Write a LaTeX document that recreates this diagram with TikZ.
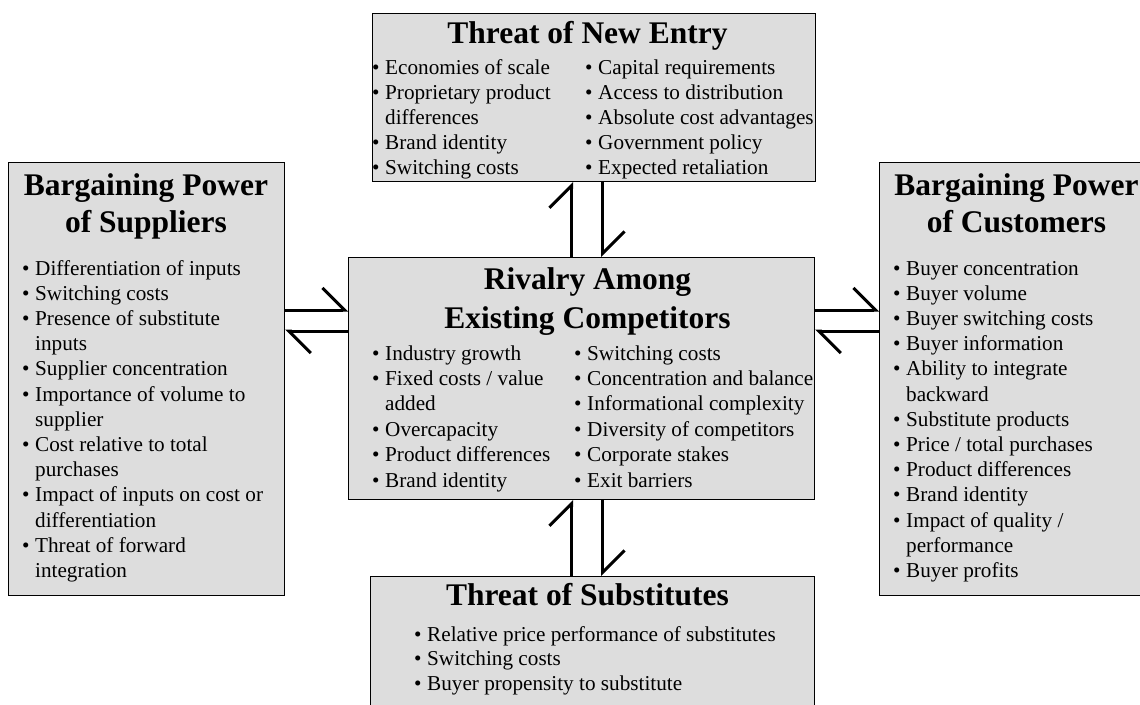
\documentclass[tikz,border=0pt]{standalone}
\usepackage{fontspec}
\setmainfont{Liberation Serif}
\usetikzlibrary{arrows.meta}
\definecolor{boxgray}{RGB}{221,221,221}
\newcommand{\pbul}{\makebox[13pt][l]{\textbullet}}
\newcommand{\pind}{\hspace*{13pt}}
\tikzset{
    boxnode/.style={draw=black, fill=boxgray, line width=1.2pt, anchor=north west, inner sep=0pt},
    boxtitle/.style={anchor=base, inner sep=0pt, font=\fontsize{31.5}{37}\selectfont\bfseries},
    bulletline/.style={anchor=base west, inner sep=0pt, font=\fontsize{21.2}{25}\selectfont},
    harp/.style={line width=3pt, -{Straight Barb[harpoon, length=22pt, width=44pt]}}
}

\begin{document}
\begin{tikzpicture}[x=1pt, y=-1pt]
        \useasboundingbox (0,0) rectangle (1140,704);
        \clip (0,0) rectangle (1140,704);
        \fill[white] (0,0) rectangle (1140,704);

        % boxes
        \node[boxnode, minimum width=443pt, minimum height=168pt] (entry) at (372,13) {};
        \node[boxnode, minimum width=276pt, minimum height=433pt] (sup) at (8,162) {};
        \node[boxnode, minimum width=280pt, minimum height=433pt] (cust) at (879,162) {};
        \node[boxnode, minimum width=466pt, minimum height=242pt] (rival) at (348,257) {};
        \node[boxnode, minimum width=444pt, minimum height=150pt] (subst) at (370,576) {};

        % titles
        \node[boxtitle] (entryT) at (587.5,43) {Threat of New Entry};
        \node[boxtitle] (supT1) at (146,195) {Bargaining Power};
        \node[boxtitle] (supT2) at (146,232) {of Suppliers};
        \node[boxtitle] (custT1) at (1016.5,195) {Bargaining Power};
        \node[boxtitle] (custT2) at (1016.5,232) {of Customers};
        \node[boxtitle] (rivalT1) at (587.5,289) {Rivalry Among};
        \node[boxtitle] (rivalT2) at (587.5,328) {Existing Competitors};
        \node[boxtitle] (substT) at (587.5,605) {Threat of Substitutes};

        % lists
        \foreach \t [count=\i from 0] in {\pbul Economies of scale, \pbul Proprietary product,
            \pind differences, \pbul Brand identity, \pbul Switching costs}{
            \node[bulletline] (entryA\i) at (372,74+25*\i) {\t};
        }
        \foreach \t [count=\i from 0] in {\pbul Capital requirements, \pbul Access to distribution,
            \pbul Absolute cost advantages, \pbul Government policy, \pbul Expected retaliation}{
            \node[bulletline] (entryB\i) at (585,74+25*\i) {\t};
        }
        \foreach \t [count=\i from 0] in {\pbul Differentiation of inputs, \pbul Switching costs,
            \pbul Presence of substitute, \pind inputs, \pbul Supplier concentration,
            \pbul Importance of volume to, \pind supplier, \pbul Cost relative to total,
            \pind purchases, \pbul Impact of inputs on cost or, \pind differentiation,
            \pbul Threat of forward, \pind integration}{
            \node[bulletline] (supL\i) at (22,275+25.2*\i) {\t};
        }
        \foreach \t [count=\i from 0] in {\pbul Buyer concentration, \pbul Buyer volume,
            \pbul Buyer switching costs, \pbul Buyer information, \pbul Ability to integrate,
            \pind backward, \pbul Substitute products, \pbul Price / total purchases,
            \pbul Product differences, \pbul Brand identity, \pbul Impact of quality /,
            \pind performance, \pbul Buyer profits}{
            \node[bulletline] (custL\i) at (893,275+25.2*\i) {\t};
        }
        \foreach \t [count=\i from 0] in {\pbul Industry growth, \pbul Fixed costs / value,
            \pind added, \pbul Overcapacity, \pbul Product differences, \pbul Brand identity}{
            \node[bulletline] (rivalA\i) at (372,360+25.4*\i) {\t};
        }
        \foreach \t [count=\i from 0] in {\pbul Switching costs, \pbul Concentration and balance,
            \pbul Informational complexity, \pbul Diversity of competitors,
            \pbul Corporate stakes, \pbul Exit barriers}{
            \node[bulletline] (rivalB\i) at (574,360+25.4*\i) {\t};
        }
        \foreach \t [count=\i from 0] in {\pbul Relative price performance of substitutes,
            \pbul Switching costs, \pbul Buyer propensity to substitute}{
            \node[bulletline] (substL\i) at (414,641+24.5*\i) {\t};
        }

        % connectors
        \coordinate (xup) at (571.5,0);
        \coordinate (xdn) at (602.5,0);
        \coordinate (yhi) at (0,310);
        \coordinate (ylo) at (0,331);
        \draw[harp] (rival.north -| xup) -- (entry.south -| xup);
        \draw[harp] (entry.south -| xdn) -- (rival.north -| xdn);
        \draw[harp] (subst.north -| xup) -- (rival.south -| xup);
        \draw[harp] (rival.south -| xdn) -- (subst.north -| xdn);
        \draw[harp] (sup.east |- yhi) -- (rival.west |- yhi);
        \draw[harp] (rival.west |- ylo) -- (sup.east |- ylo);
        \draw[harp] (rival.east |- yhi) -- (cust.west |- yhi);
        \draw[harp] (cust.west |- ylo) -- (rival.east |- ylo);
    \end{tikzpicture}
\end{document}
